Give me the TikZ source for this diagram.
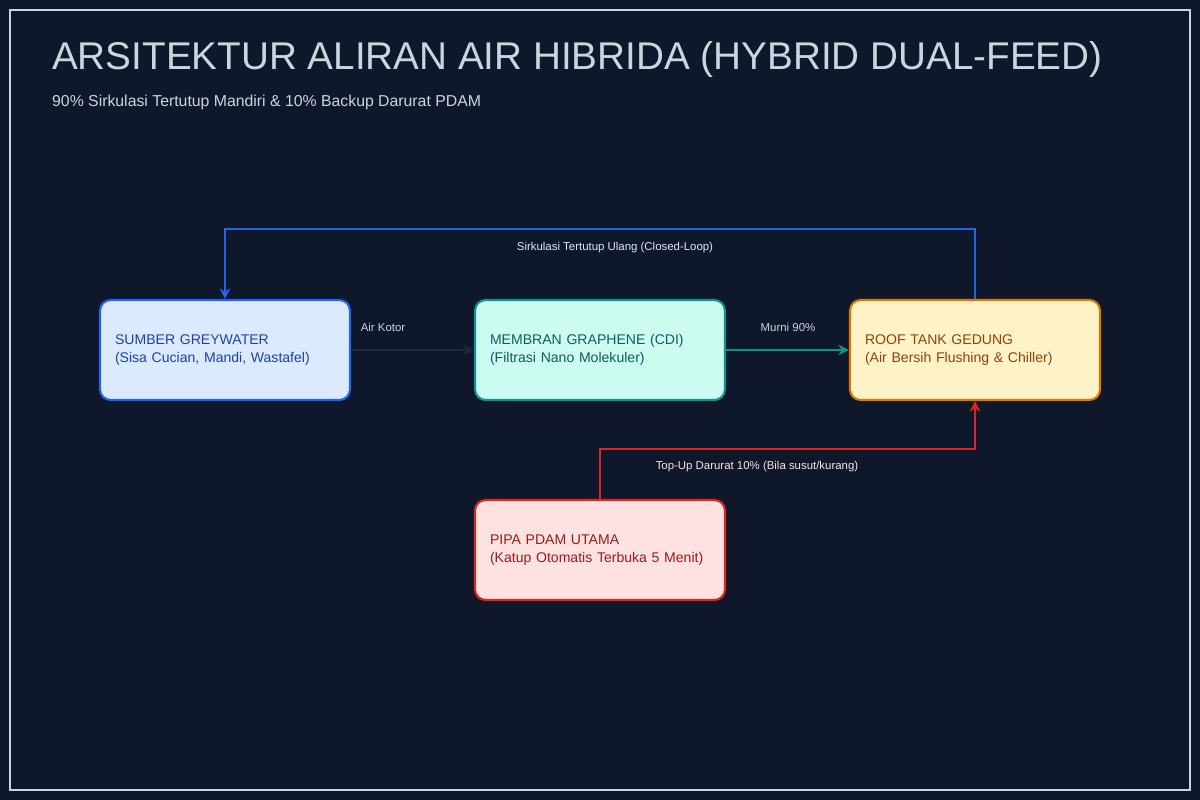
\documentclass[tikz,border=0pt]{standalone}
\usepackage{fontspec}
\setmainfont{Liberation Sans}
\usetikzlibrary{arrows.meta}
\definecolor{bg}{HTML}{0F172A}
\definecolor{frame}{HTML}{CBD5E1}
\definecolor{cDark}{RGB}{30,41,59}
\definecolor{cTeal}{RGB}{13,148,136}
\definecolor{cTealF}{RGB}{204,251,241}
\definecolor{cTealT}{RGB}{17,94,89}
\definecolor{cBlue}{RGB}{37,99,235}
\definecolor{cBlueF}{RGB}{219,234,254}
\definecolor{cBlueT}{RGB}{30,64,175}
\definecolor{cOr}{RGB}{217,119,6}
\definecolor{cOrF}{RGB}{254,243,199}
\definecolor{cOrT}{RGB}{146,64,14}
\definecolor{cRed}{RGB}{220,38,38}
\definecolor{cRedF}{RGB}{254,226,226}
\definecolor{cRedT}{RGB}{153,27,27}
\tikzset{
 box/.style={draw, line width=1.2pt, rounded corners=6pt, minimum width=5cm, minimum height=2cm, text width=4.4cm, align=left, font=\fontsize{8}{10}\selectfont, inner sep=0pt},
 lbl/.style={font=\fontsize{6.5}{8}\selectfont},
 arr/.style={line width=1.5pt, -{Stealth[length=6pt,width=6pt]}}
}
\begin{document}
\begin{tikzpicture}[x=0.02cm,y=-0.02cm]
\fill[bg] (0,0) rectangle (1200,800);
\draw[frame, line width=1.2pt] (10,10) rectangle (1190,790);
\node[anchor=west, text=frame, font=\fontsize{22}{26}\selectfont] (title) at (46,60) {ARSITEKTUR ALIRAN AIR HIBRIDA (HYBRID DUAL-FEED)};
\node[anchor=west, text=frame, font=\fontsize{9}{11}\selectfont] (sub) at (46,102) {90\% Sirkulasi Tertutup Mandiri \& 10\% Backup Darurat PDAM};

\node[box, draw=cBlue, fill=cBlueF, text=cBlueT] (grey) at (225,350) {SUMBER GREYWATER\\(Sisa Cucian, Mandi, Wastafel)};
\node[box, draw=cTeal, fill=cTealF, text=cTealT] (mem) at (600,350) {MEMBRAN GRAPHENE (CDI)\\(Filtrasi Nano Molekuler)};
\node[box, draw=cOr, fill=cOrF, text=cOrT] (roof) at (975,350) {ROOF TANK GEDUNG\\(Air Bersih Flushing \& Chiller)};
\node[box, draw=cRed, fill=cRedF, text=cRedT] (pdam) at (600,550) {PIPA PDAM UTAMA\\(Katup Otomatis Terbuka 5 Menit)};

\draw[arr, cDark] (grey.east) -- (mem.west);
\node[lbl, text=frame] (l1) at (383,327) {Air Kotor};
\draw[arr, cTeal] (mem.east) -- (roof.west);
\node[lbl, text=frame] (l2) at (788,327) {Murni 90\%};
\draw[arr, cBlue] (roof.north) -- ++(0,-70) -| (grey.north);
\node[lbl, text=cBlueF] (l3) at (615,248) {Sirkulasi Tertutup Ulang (Closed-Loop)};
\draw[arr, cRed] (pdam.north) -- ++(0,-50) -| (roof.south);
\node[lbl, text=cRedF] (l4) at (757,467) {Top-Up Darurat 10\% (Bila susut/kurang)};
\end{tikzpicture}
\end{document}
